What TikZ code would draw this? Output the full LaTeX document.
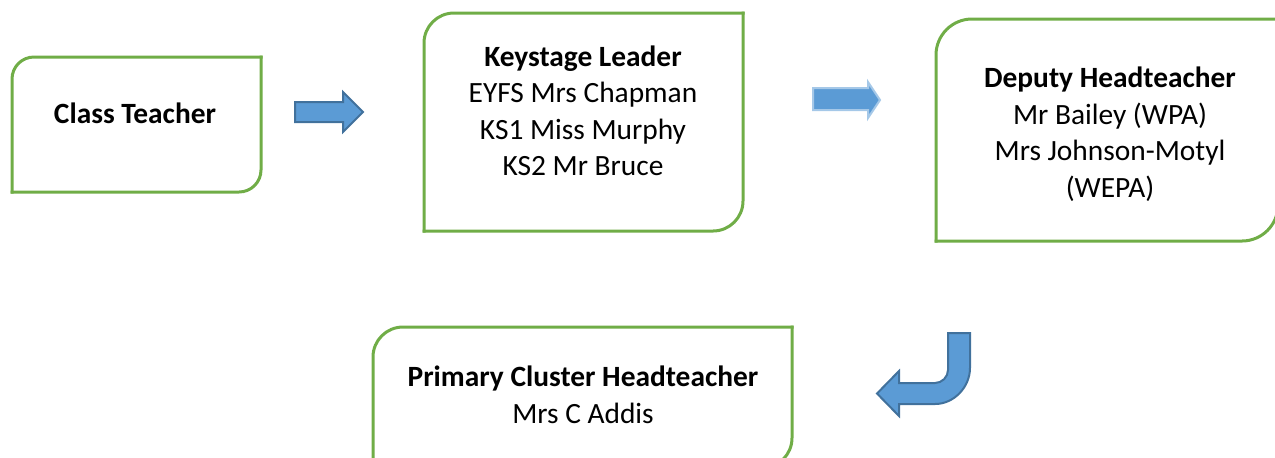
\documentclass[tikz,border=0pt]{standalone}
\usepackage{fontspec}
\setmainfont{Carlito}
\usepackage{tikz}
\definecolor{BoxGreen}{HTML}{70AD47}
\definecolor{ArrowBlue}{HTML}{5B9BD5}
\definecolor{ArrowEdge}{HTML}{41719C}

% box with rounded top-left and bottom-right corners: x1,y1,x2,y2,radius
\newcommand{\DiagBox}[5]{%
  \draw[BoxLine, rounded corners=#5] (#1,#4) -- (#1,#2) -- (#3,#2);
  \draw[BoxLine, rounded corners=#5] (#3,#2) -- (#3,#4) -- (#1,#4);
}

\begin{document}
\begin{tikzpicture}[x=0.5pt,y=-0.5pt]
  \tikzset{BoxLine/.style = {
    draw          = BoxGreen,
    line width    = 1.5pt,
    line cap      = rect
    }
  }
  \tikzset{TextStyle/.style = {
    align         = center,
    anchor        = base,
    inner sep     = 0pt,
    text          = black,
    font          = \fontsize{14.7}{18.25}\selectfont
    }
  }
  \tikzset{ArrowStyle/.style = {
    fill          = ArrowBlue,
    draw          = ArrowEdge,
    line width    = 1pt,
    line join     = miter
    }
  }
  \tikzset{ArrowSoft/.style = {
    fill          = ArrowBlue,
    draw          = ArrowBlue!55!white,
    line width    = 1pt
    }
  }

  \useasboundingbox (0,0) rectangle (1275,457);
  \clip (0,0) rectangle (1275,457);

  % boxes
  \DiagBox{12}{57}{261}{192}{11pt}
  \DiagBox{424}{13}{743}{231}{15pt}
  \DiagBox{936}{19}{1278}{241}{18pt}
  \DiagBox{373}{327}{792}{468}{15pt}

  % texts (base = last line)
  \node[TextStyle](Teacher) at (135, 123) {\textbf{Class Teacher}};
  \node[TextStyle](Keystage) at (583, 175.5) {\textbf{Keystage Leader}\\EYFS Mrs Chapman\\KS1 Miss Murphy\\KS2 Mr Bruce};
  \node[TextStyle](Deputy) at (1110, 197) {\textbf{Deputy Headteacher}\\Mr Bailey (WPA)\\Mrs Johnson-Motyl\\(WEPA)};
  \node[TextStyle](Cluster) at (583, 423) {\textbf{Primary Cluster Headteacher}\\Mrs C Addis};

  % arrows
  \draw[ArrowStyle] (295,102) -- (343,102) -- (343,92) -- (363,112) -- (343,132) -- (343,122) -- (295,122) -- cycle;
  \draw[ArrowSoft] (813,88) -- (868,88) -- (868,82) -- (880,100) -- (868,118) -- (868,110) -- (813,110) -- cycle;
  \draw[ArrowStyle] (948,333) -- (970,333) -- (970,368) .. controls (970,387) and (954,404) .. (935,404)
    -- (899,404) -- (899,416) -- (877,393.5) -- (899,371) -- (899,383) -- (935,383)
    .. controls (942,383) and (948,377) .. (948,370) -- cycle;

  \end{tikzpicture}
\end{document}
